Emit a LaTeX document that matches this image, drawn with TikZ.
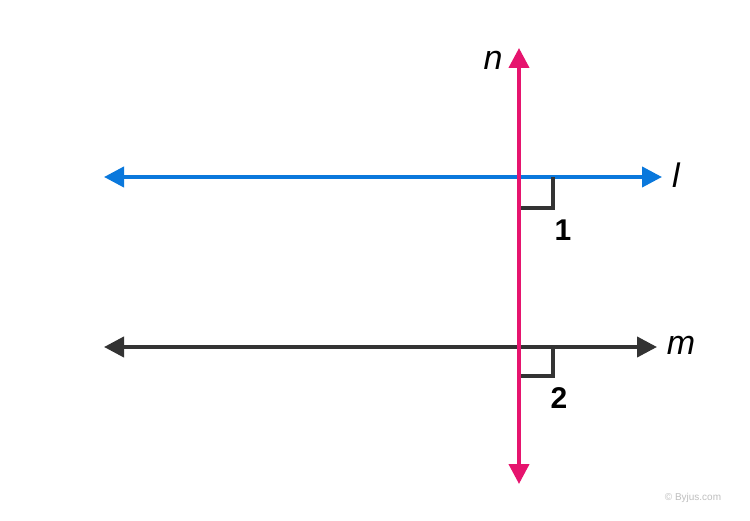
\documentclass[tikz,border=0pt]{standalone}
\usepackage{fontspec}
\setmainfont{Liberation Sans}
\usetikzlibrary{arrows.meta}
\definecolor{lblue}{HTML}{0A78DC}
\definecolor{lpink}{HTML}{E6146E}
\definecolor{ldark}{HTML}{333333}
\begin{document}
\begin{tikzpicture}[x=1pt,y=-1pt,
  ln/.style={line width=4pt,{Triangle[length=20pt,width=20pt]}-{Triangle[length=20pt,width=20pt]}},
  mk/.style={line width=3.5pt,ldark},
  lab/.style={font=\fontsize{34}{34}\selectfont\itshape},
  num/.style={font=\fontsize{30}{30}\selectfont\bfseries}]
\useasboundingbox (0,0) rectangle (750,521);
\fill[white] (0,0) rectangle (750,521);
\coordinate (lA) at (104,177); \coordinate (lB) at (662,177);
\coordinate (mA) at (104,347); \coordinate (mB) at (657,347);
\coordinate (nA) at (519,48); \coordinate (nB) at (519,484);
\draw[ln,lblue] (lA) -- (lB);
\draw[ln,ldark] (mA) -- (mB);
\draw[mk] (553,177) -- (553,208) -- (521,208);
\draw[mk] (553,347) -- (553,376) -- (521,376);
\draw[ln,lpink] (nB) -- (nA);
\node[lab] (n) at (493,60) {n};
\node[lab] (l) at (676,175) {l};
\node[lab] (m) at (681,345) {m};
\node[num] (one) at (563,230) {1};
\node[num] (two) at (559,398) {2};
\node[font=\fontsize{10}{10}\selectfont,text=black!25] (wm) at (693,498) {© Byjus.com};
\end{tikzpicture}
\end{document}
